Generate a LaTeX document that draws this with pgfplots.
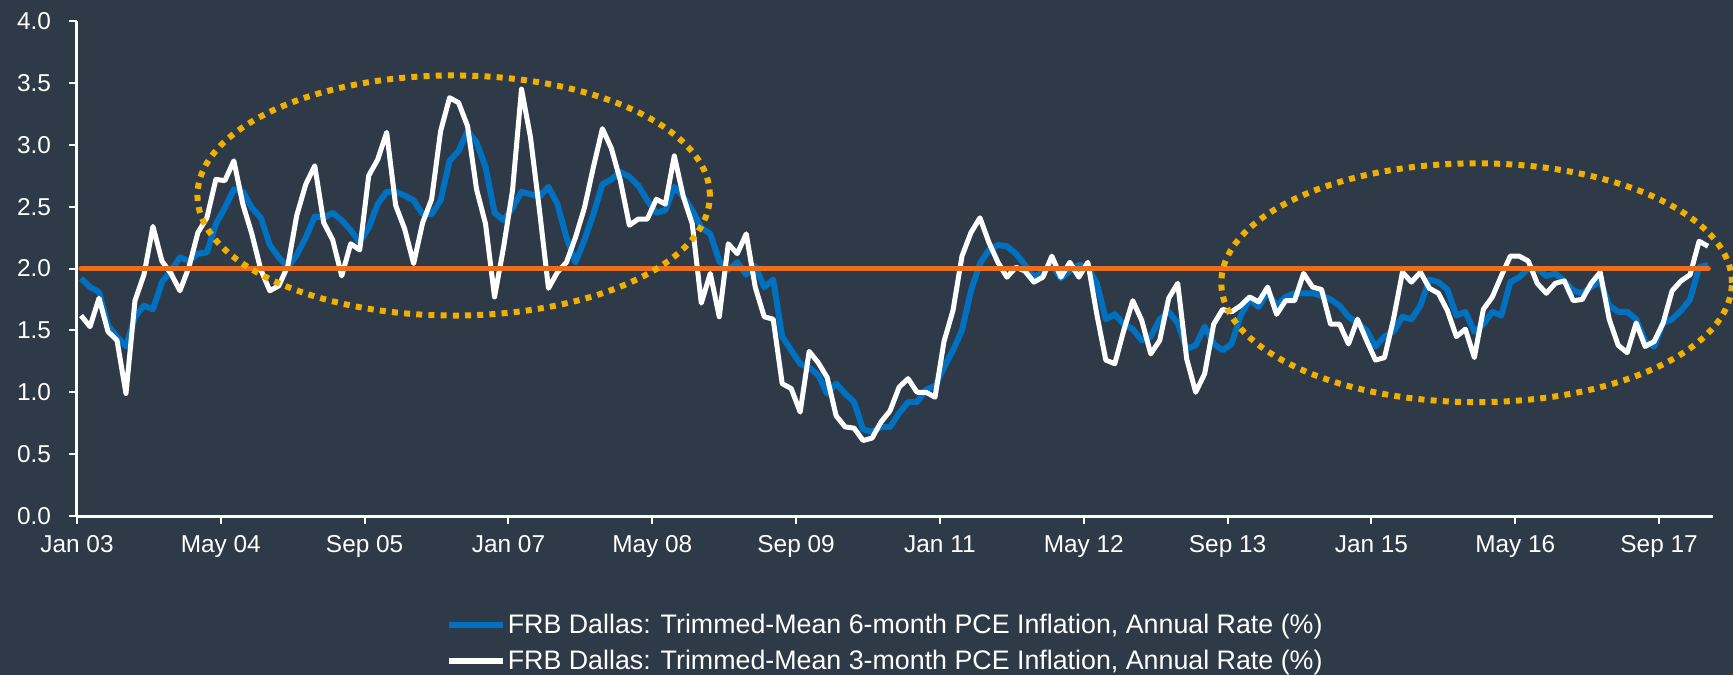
\documentclass[border=0pt]{standalone}
\usepackage{pgfplots}
\pgfplotsset{compat=1.18}
\usepackage{pgfplotstable}
\usepackage{fontspec}
\setmainfont{Liberation Sans}
\definecolor{bg}{HTML}{2E3A47}
\definecolor{blueline}{HTML}{0070C0}
\definecolor{orangeline}{HTML}{E96E1E}
\definecolor{goldline}{HTML}{F0B000}

\pgfplotstableread{
m six three
0 1.92 1.62
1 1.85 1.53
2 1.81 1.76
3 1.54 1.49
4 1.45 1.42
5 1.37 0.99
6 1.61 1.74
7 1.70 1.95
8 1.67 2.34
9 1.89 2.06
10 1.98 1.96
11 2.09 1.82
12 2.06 2.01
13 2.12 2.29
14 2.13 2.41
15 2.36 2.72
16 2.49 2.71
17 2.64 2.87
18 2.62 2.52
19 2.49 2.28
20 2.41 1.99
21 2.19 1.82
22 2.09 1.86
23 2.01 2.02
24 2.11 2.43
25 2.25 2.68
26 2.42 2.83
27 2.41 2.37
28 2.45 2.23
29 2.39 1.94
30 2.31 2.20
31 2.21 2.15
32 2.33 2.75
33 2.52 2.88
34 2.62 3.10
35 2.62 2.51
36 2.59 2.32
37 2.55 2.04
38 2.44 2.37
39 2.44 2.56
40 2.55 3.11
41 2.87 3.38
42 2.95 3.34
43 3.11 3.15
44 3.02 2.64
45 2.82 2.36
46 2.45 1.77
47 2.39 2.17
48 2.49 2.63
49 2.62 3.45
50 2.60 3.06
51 2.58 2.47
52 2.66 1.84
53 2.52 1.97
54 2.25 2.05
55 2.05 2.25
56 2.23 2.49
57 2.44 2.82
58 2.68 3.13
59 2.72 2.97
60 2.78 2.71
61 2.74 2.35
62 2.67 2.40
63 2.55 2.40
64 2.45 2.56
65 2.47 2.52
66 2.66 2.91
67 2.58 2.58
68 2.47 2.36
69 2.33 1.72
70 2.28 1.96
71 2.06 1.61
72 1.99 2.20
73 2.05 2.12
74 1.95 2.28
75 2.02 1.85
76 1.85 1.61
77 1.91 1.59
78 1.45 1.07
79 1.34 1.03
80 1.23 0.84
81 1.20 1.33
82 1.14 1.24
83 0.99 1.12
84 1.07 0.81
85 0.99 0.72
86 0.92 0.71
87 0.70 0.61
88 0.68 0.63
89 0.72 0.76
90 0.72 0.85
91 0.83 1.04
92 0.92 1.11
93 0.92 1.00
94 1.02 1.00
95 1.05 0.96
96 1.20 1.41
97 1.34 1.66
98 1.50 2.10
99 1.82 2.29
100 2.04 2.41
101 2.15 2.21
102 2.19 2.05
103 2.18 1.93
104 2.12 2.01
105 2.03 1.98
106 1.93 1.89
107 1.97 1.93
108 2.03 2.10
109 1.92 1.93
110 1.98 2.05
111 2.03 1.93
112 2.01 2.05
113 1.88 1.63
114 1.59 1.26
115 1.63 1.23
116 1.55 1.50
117 1.51 1.74
118 1.42 1.58
119 1.45 1.31
120 1.59 1.42
121 1.65 1.76
122 1.56 1.88
123 1.35 1.27
124 1.38 1.00
125 1.53 1.15
126 1.39 1.55
127 1.34 1.67
128 1.39 1.65
129 1.62 1.70
130 1.75 1.77
131 1.69 1.73
132 1.81 1.85
133 1.70 1.63
134 1.77 1.74
135 1.80 1.74
136 1.80 1.96
137 1.80 1.85
138 1.78 1.83
139 1.75 1.55
140 1.70 1.55
141 1.61 1.39
142 1.56 1.59
143 1.50 1.42
144 1.37 1.26
145 1.45 1.28
146 1.49 1.59
147 1.61 1.97
148 1.59 1.89
149 1.70 1.97
150 1.91 1.84
151 1.89 1.80
152 1.83 1.66
153 1.62 1.45
154 1.65 1.51
155 1.49 1.28
156 1.55 1.67
157 1.65 1.77
158 1.62 1.94
159 1.89 2.10
160 1.93 2.10
161 2.00 2.06
162 2.00 1.88
163 1.94 1.80
164 1.96 1.88
165 1.90 1.90
166 1.82 1.74
167 1.80 1.75
168 1.85 1.88
169 1.90 1.97
170 1.70 1.59
171 1.65 1.38
172 1.65 1.32
173 1.59 1.56
174 1.41 1.37
175 1.37 1.41
176 1.56 1.56
177 1.59 1.82
178 1.66 1.90
179 1.75 1.95
180 2.01 2.22
181 2.03 2.18
}\datatable

\begin{document}
\begin{tikzpicture}
\path[use as bounding box, fill=bg] (-38.5pt,-79.5pt) rectangle (828pt,258pt);
\begin{axis}[
  at={(0pt,0pt)}, anchor=south west,
  width=818pt, height=247.5pt, scale only axis,
  xmin=0, xmax=182, ymin=0, ymax=4,
  clip=false,
  axis x line*=bottom, axis y line*=left,
  axis line style={white, line width=1.5pt},
  xtick={0,16,...,176},
  xticklabels={Jan 03, May 04, Sep 05, Jan 07, May 08, Sep 09, Jan 11, May 12, Sep 13, Jan 15, May 16, Sep 17},
  ytick={0,0.5,...,4},
  yticklabel={\pgfmathprintnumber[fixed,fixed zerofill,precision=1]{\tick}},
  /pgf/number format/assume math mode=true,
  tick style={white, line width=1pt},
  tick align=outside,
  major tick length=4pt,
  ticklabel style={font=\fontsize{12.2}{14}\selectfont, text=white},
  yticklabel style={xshift=-5.5pt},
  xticklabel style={yshift=-2.2pt},
  legend style={at={(0.494,-0.2566)}, anchor=center, draw=none, fill=none,
    text=white, font=\fontsize{13.4}{15}\selectfont, row sep=3.7pt,
    nodes={inner xsep=1pt, inner ysep=1.5pt}},
  legend cell align=left,
  legend image code/.code={\draw[#1, line width=3pt] (0pt,0pt) -- (27pt,0pt);},
]
\addplot[color=blueline, line width=3pt, line join=round] table[x expr=\thisrow{m}+0.45, y=six] {\datatable};
\addlegendentry{FRB Dallas: Trimmed-Mean 6-month PCE Inflation, Annual Rate (\%)}
\addplot[color=white, line width=2.5pt, line join=round] table[x expr=\thisrow{m}+0.45, y=three] {\datatable};
\addlegendentry{FRB Dallas: Trimmed-Mean 3-month PCE Inflation, Annual Rate (\%)}
\addplot[color=orangeline, line width=2.8pt, line cap=round, forget plot] coordinates {(0.45,2) (181.45,2)};
\draw[goldline, line width=3pt, dash pattern=on 3pt off 3.1pt] (axis cs:41.9,2.59) ellipse [x radius=28.5, y radius=0.97];
\draw[goldline, line width=3pt, dash pattern=on 3pt off 3.1pt] (axis cs:155.7,1.885) ellipse [x radius=28.4, y radius=0.965];
\end{axis}
\end{tikzpicture}
\end{document}
